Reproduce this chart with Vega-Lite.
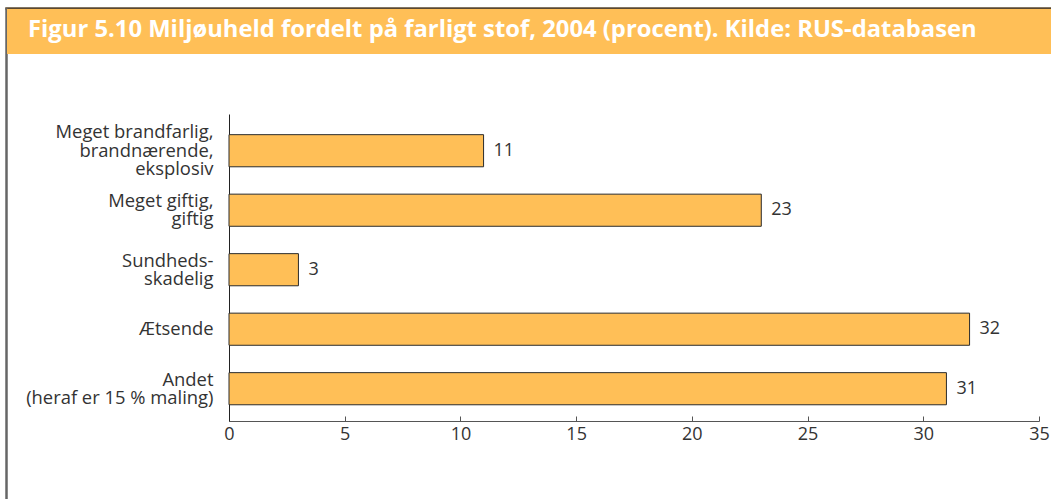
{
  "$schema": "https://vega.github.io/schema/vega-lite/v6.json",
  "padding": {"left": 5, "top": 7, "right": 0, "bottom": 0},
  "background": "white",
  "config": {"view": {"stroke": null}, "font": "Open Sans"},
  "bounds": "flush",
  "spacing": 0,
  "vconcat": [
    {"width": 1046, "height": 1, "view": {"stroke": "#5a4830", "strokeWidth": 1.5}, "data": {"values": []}, "mark": "point"},
    {
      "bounds": "flush",
      "spacing": 0,
      "hconcat": [
        {"width": 1, "height": 491, "view": {"stroke": "#666666", "strokeWidth": 1.5}, "data": {"values": []}, "mark": "point"},
        {
          "bounds": "flush",
          "spacing": 60,
          "vconcat": [
            {
              "width": 1045, "height": 45,
              "view": {"fill": "#FFBF57", "stroke": null},
              "data": {"values": []},
              "mark": "point",
              "title": {
                "text": "Figur 5.10 Miljøuheld fordelt på farligt stof, 2004 (procent). Kilde: RUS-databasen",
                "anchor": "start", "orient": "top", "offset": -52, "baseline": "alphabetic",
                "dx": 21, "color": "white", "fontSize": 23.8, "fontWeight": "bold", "font": "Open Sans"
              }
            },
            {
              "bounds": "flush",
              "spacing": 0,
              "hconcat": [
                {"width": 222, "height": 307, "data": {"values": []}, "mark": "point"},
                {
                  "width": 810, "height": 307,
                  "data": {"values": [
                    {"kategori": "Meget brandfarlig,|brandnærende,|eksplosiv", "procent": 11},
                    {"kategori": "Meget giftig,|giftig", "procent": 23},
                    {"kategori": "Sundheds-|skadelig", "procent": 3},
                    {"kategori": "Ætsende", "procent": 32},
                    {"kategori": "Andet|(heraf er 15 % maling)", "procent": 31}
                  ]},
                  "encoding": {
                    "y": {
                      "field": "kategori", "type": "nominal", "sort": null,
                      "scale": {"paddingInner": 0.46, "paddingOuter": 0.31, "align": 0.56},
                      "axis": {
                        "title": null, "domainColor": "#222222", "domainWidth": 1, "ticks": false,
                        "labelPadding": 16, "labelFontSize": 18.4, "labelColor": "#333333",
                        "labelExpr": "split(datum.label, '|')", "labelLineHeight": 18.3,
                        "labelLimit": 0, "labelAlign": "right", "labelBaseline": "middle",
                        "labelOffset": {
                          "condition": [
                            {"test": "indexof(datum.value, 'eksplosiv') >= 0", "value": -18.3},
                            {"test": "indexof(datum.value, '|') >= 0", "value": -9.15}
                          ],
                          "value": 0
                        }
                      }
                    }
                  },
                  "layer": [
                    {
                      "mark": {"type": "bar", "fill": "#FFBF57", "stroke": "#2b2b2b", "strokeWidth": 1},
                      "encoding": {
                        "x": {
                          "field": "procent", "type": "quantitative",
                          "scale": {"domain": [0, 35], "nice": false},
                          "axis": {
                            "title": null, "values": [0, 5, 10, 15, 20, 25, 30, 35], "grid": false,
                            "tickSize": -5, "tickColor": "#555555", "domainColor": "#555555",
                            "labelFontSize": 18, "labelColor": "#333333", "labelPadding": 9, "labelFlush": false
                          }
                        }
                      }
                    },
                    {
                      "mark": {"type": "text", "align": "left", "baseline": "middle", "dx": 10, "fontSize": 18, "color": "#333333"},
                      "encoding": {
                        "x": {"field": "procent", "type": "quantitative"},
                        "text": {"field": "procent", "type": "quantitative"}
                      }
                    }
                  ]
                }
              ]
            }
          ]
        }
      ]
    }
  ]
}
